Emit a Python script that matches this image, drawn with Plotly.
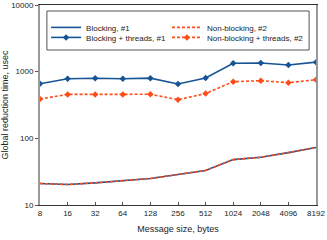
import plotly.graph_objects as go

sizes = [8, 16, 32, 64, 128, 256, 512, 1024, 2048, 4096, 8192]
size_labels = ["8", "16", "32", "64", "128", "256", "512", "1024", "2048", "4096", "8192"]
blocking = [21, 20.3, 21.5, 23, 25, 28.7, 33, 48, 52, 61, 73]
nonblocking = [21, 20.3, 21.5, 23, 25, 28.7, 33, 48, 52, 61, 73]
blocking_threads = [660, 785, 795, 785, 800, 655, 805, 1340, 1350, 1260, 1390]
nonblocking_threads = [388, 456, 456, 456, 458, 380, 470, 707, 732, 683, 758]
y_ticks = [10, 100, 1000, 10000]

BLUE = "#175496"
ORANGE = "#ff4d1a"

fig = go.Figure()
fig.add_trace(go.Scatter(x=sizes, y=blocking, name="Blocking, #1", mode="lines",
                         line=dict(color=BLUE, width=1.6), legend="legend"))
fig.add_trace(go.Scatter(x=sizes, y=nonblocking, name="Non-blocking, #2", mode="lines",
                         line=dict(color=ORANGE, width=1.6, dash="3px,2px"), legend="legend2"))
fig.add_trace(go.Scatter(x=sizes, y=blocking_threads, name="Blocking + threads, #1", mode="lines+markers",
                         line=dict(color=BLUE, width=1.6), marker=dict(symbol="diamond", size=5, color=BLUE),
                         legend="legend3"))
fig.add_trace(go.Scatter(x=sizes, y=nonblocking_threads, name="Non-blocking + threads, #2", mode="lines+markers",
                         line=dict(color=ORANGE, width=1.6, dash="3px,2px"),
                         marker=dict(symbol="diamond", size=5, color=ORANGE), legend="legend4"))

leg_common = dict(orientation="v", yanchor="middle", xanchor="left", bgcolor="rgba(0,0,0,0)",
                  borderwidth=0, font=dict(size=8), itemwidth=30, tracegroupgap=0)

fig.update_layout(
    width=327, height=240,
    margin=dict(l=40, r=11, t=5, b=35, autoexpand=False),
    paper_bgcolor="white", plot_bgcolor="white",
    font=dict(family="Liberation Sans, Arial, sans-serif", size=8, color="#222"),
    showlegend=True,
    legend=dict(x=0.022, y=0.888, **leg_common),
    legend2=dict(x=0.46, y=0.888, **leg_common),
    legend3=dict(x=0.022, y=0.838, **leg_common),
    legend4=dict(x=0.46, y=0.838, **leg_common),
    shapes=[dict(type="rect", xref="paper", yref="paper", x0=0.025, x1=0.975, y0=0.775, y1=0.97,
                 line=dict(color="#555", width=1), fillcolor="white", layer="above")],
)
fig.update_xaxes(type="log", range=[0.90309, 3.91339], tickvals=sizes, ticktext=size_labels,
                 showgrid=False, zeroline=False, showline=True, linecolor="#333", linewidth=1,
                 mirror=True, ticks="inside", ticklen=3, tickcolor="#555", automargin=False,
                 tickfont=dict(size=8), ticklabeloverflow="allow",
                 title=dict(text="Message size, bytes", font=dict(size=9), standoff=9))
fig.update_yaxes(type="log", range=[1, 4], tickvals=y_ticks, ticktext=[str(v) for v in y_ticks],
                 showgrid=False, zeroline=False, showline=True, linecolor="#999", linewidth=2,
                 mirror=True, ticks="outside", ticklen=3, tickcolor="#555", automargin=False,
                 tickfont=dict(size=8),
                 title=dict(text="Global reduction time, usec", font=dict(size=9), standoff=6))

fig.write_html("out.html", config={"displayModeBar": False},
               post_script="document.body.style.margin='0';")
